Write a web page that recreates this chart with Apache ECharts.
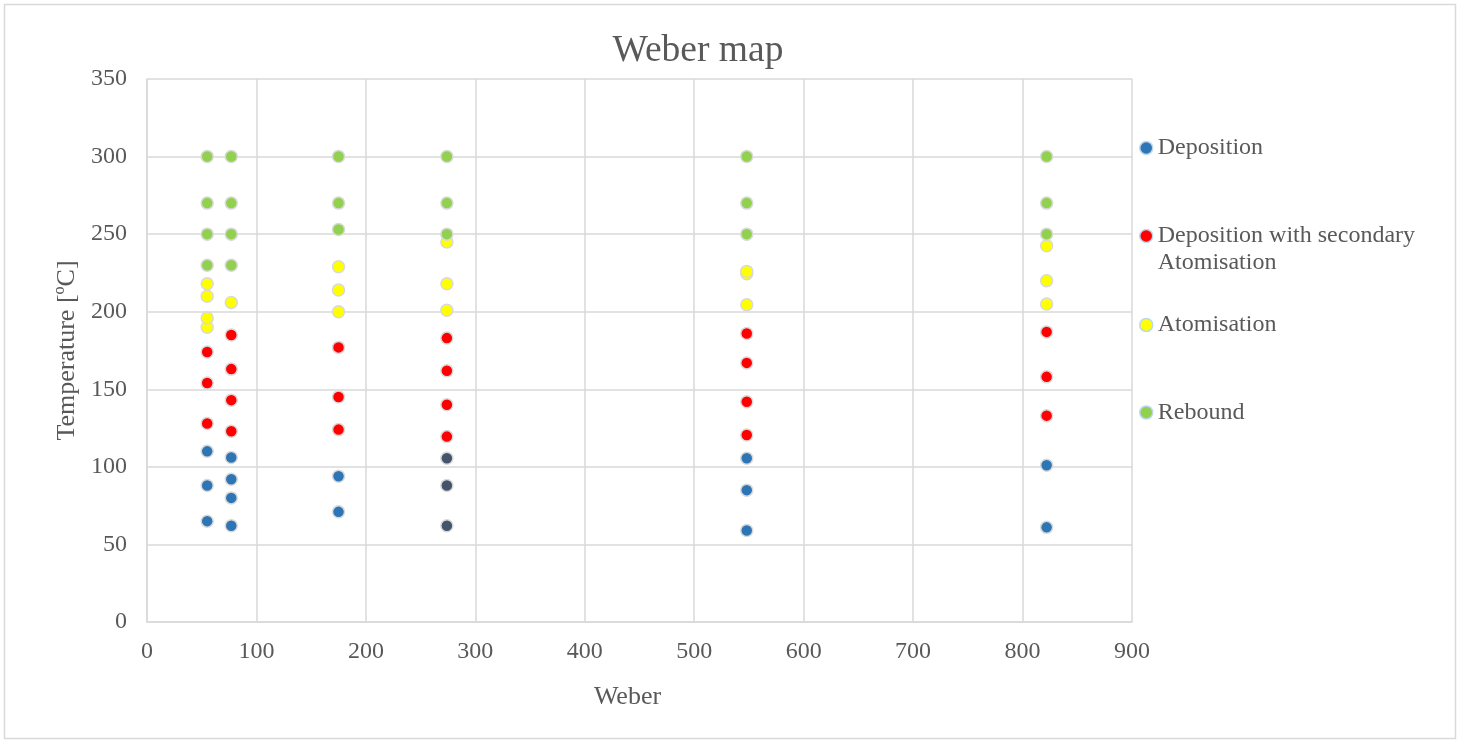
<!DOCTYPE html>
<html>
<head>
<meta charset="utf-8">
<script src="https://cdn.jsdelivr.net/npm/echarts@6/dist/echarts.min.js"></script>
<style>
  html, body { margin: 0; padding: 0; background: #ffffff; }
  #chart { width: 1461px; height: 743px; }
</style>
</head>
<body>
<div id="chart"></div>
<script>
// Weber number vs. wall temperature, one array of [We, T] points per regime
const deposition = [
  [55, 110], [55, 88], [55, 65],
  [77, 106], [77, 92], [77, 80], [77, 62],
  [175, 94], [175, 71],
  [548, 105.5], [548, 85], [548, 59],
  [822, 101], [822, 61]
];
// deposition points of the We = 274 column (drawn in slate)
const depositionWe274 = [[274, 105.5], [274, 88], [274, 62]];
const depositionSecondary = [
  [55, 174], [55, 154], [55, 128],
  [77, 185], [77, 163], [77, 143], [77, 123],
  [175, 177], [175, 145], [175, 124],
  [274, 183], [274, 162], [274, 140], [274, 119.5],
  [548, 186], [548, 167], [548, 142], [548, 120.5],
  [822, 187], [822, 158], [822, 133]
];
const atomisation = [
  [55, 190], [55, 196], [55, 210], [55, 218],
  [77, 206],
  [175, 229], [175, 214], [175, 200],
  [274, 245], [274, 218], [274, 201],
  [548, 204.5], [548, 224.5], [548, 226],
  [822, 242.5], [822, 220], [822, 205]
];
const rebound = [
  [55, 300], [55, 270], [55, 250], [55, 230],
  [77, 300], [77, 270], [77, 250], [77, 230],
  [175, 300], [175, 270], [175, 253],
  [274, 300], [274, 270], [274, 250],
  [548, 300], [548, 270], [548, 250],
  [822, 300], [822, 270], [822, 250]
];

const seriesNames = ['Deposition', 'Deposition with secondary Atomisation', 'Atomisation', 'Rebound'];
const seriesColors = ['#2E75B6', '#FF0000', '#FFFF00', '#92D050'];

const FONT = '"Liberation Serif", "Times New Roman", serif';
const TEXT = '#595959';
const GRID = '#d9d9d9';

function scatter(name, data, color) {
  return {
    name: name,
    type: 'scatter',
    data: data,
    symbol: 'circle',
    symbolSize: 12,
    itemStyle: { color: color, borderColor: '#d9d9d9', borderWidth: 1.5, opacity: 1 },
    emphasis: { disabled: true }
  };
}

// one legend block per entry so each can sit at its own height;
// the wrapped entry starts with an empty line so its first line sits level with the icon
const legendTops = [134.5, 195.5, 311.5, 399];
const legendText = {
  'Deposition with secondary Atomisation': '\nDeposition with secondary\nAtomisation'
};
const legends = seriesNames.map((n, i) => ({
  data: [n],
  orient: 'vertical',
  left: 1139,
  top: legendTops[i],
  itemWidth: 13,
  itemHeight: 13,
  itemGap: 0,
  padding: 0,
  icon: 'circle',
  selectedMode: false,
  itemStyle: { borderColor: '#bdd7ee', borderWidth: 1.5 },
  formatter: (name) => legendText[name] || name,
  textStyle: { fontFamily: FONT, fontSize: 24, color: TEXT, lineHeight: 27 }
}));

const chart = echarts.init(document.getElementById('chart'), null, { renderer: 'canvas' });
chart.setOption({
  backgroundColor: '#ffffff',
  animation: false,
  title: {
    text: 'Weber map',
    left: 693,
    textAlign: 'center',
    top: 27,
    textStyle: { fontFamily: FONT, fontSize: 37.5, fontWeight: 'normal', color: TEXT }
  },
  graphic: [{
    type: 'rect',
    shape: { x: 4.5, y: 4.5, width: 1451, height: 734 },
    style: { fill: 'none', stroke: GRID, lineWidth: 1.5 },
    silent: true
  }],
  legend: legends,
  grid: { left: 147, right: 329, top: 79, bottom: 121, containLabel: false },
  xAxis: {
    type: 'value',
    min: 0, max: 900, interval: 100,
    name: 'Weber',
    nameLocation: 'middle',
    nameGap: 62,
    nameTextStyle: { fontFamily: FONT, fontSize: 26, color: TEXT, padding: [0, 24, 0, 0] },
    axisLine: { show: true, lineStyle: { color: GRID, width: 1.5 } },
    axisTick: { show: false },
    axisLabel: { fontFamily: FONT, fontSize: 24, color: TEXT, margin: 18 },
    splitLine: { show: true, lineStyle: { color: GRID, width: 1.5 } }
  },
  yAxis: {
    type: 'value',
    min: 0, max: 350, interval: 50,
    name: 'Temperature [ºC]',
    nameLocation: 'middle',
    nameGap: 64,
    nameTextStyle: { fontFamily: FONT, fontSize: 26, color: TEXT },
    axisLine: { show: true, lineStyle: { color: GRID, width: 1.5 } },
    axisTick: { show: false },
    axisLabel: { fontFamily: FONT, fontSize: 24, color: TEXT, margin: 20 },
    splitLine: { show: true, lineStyle: { color: GRID, width: 1.5 } }
  },
  series: [
    scatter(seriesNames[0], deposition, seriesColors[0]),
    scatter('Deposition, We 274', depositionWe274, '#44546A'),
    scatter(seriesNames[1], depositionSecondary, seriesColors[1]),
    scatter(seriesNames[2], atomisation, seriesColors[2]),
    scatter(seriesNames[3], rebound, seriesColors[3])
  ]
});
</script>
</body>
</html>
